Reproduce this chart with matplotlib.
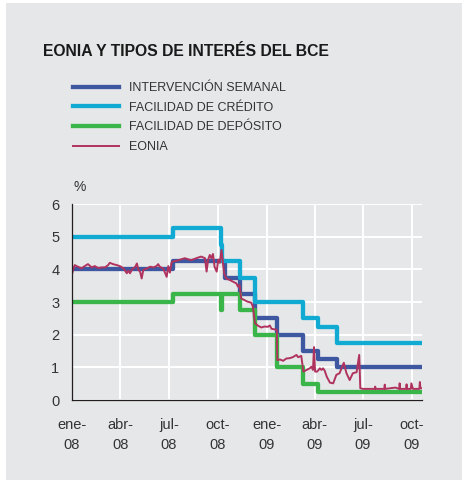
import matplotlib
matplotlib.use('Agg')
from matplotlib import pyplot as plt
from matplotlib.patches import Rectangle
import pandas as pd

# Tipos del BCE (fechas de cambio y niveles, %)
refi_dates = ['2008-01-01', '2008-07-09', '2008-10-15', '2008-11-12', '2008-12-10',
              '2009-01-21', '2009-03-11', '2009-04-08', '2009-05-13', '2009-10-20']
refi_vals = [4.00, 4.25, 3.75, 3.25, 2.50, 2.00, 1.50, 1.25, 1.00, 1.00]

fac_dates = ['2008-01-01', '2008-07-09', '2008-10-08', '2008-10-09', '2008-11-12',
             '2008-12-10', '2009-01-21', '2009-03-11', '2009-04-08', '2009-05-13', '2009-10-20']
credit_vals = [5.00, 5.25, 4.75, 4.25, 3.75, 3.00, 3.00, 2.50, 2.25, 1.75, 1.75]
deposit_vals = [3.00, 3.25, 2.75, 3.25, 2.75, 2.00, 1.00, 0.50, 0.25, 0.25, 0.25]

# EONIA
eonia_dates = [
    '2008-01-01', '2008-01-03', '2008-01-06', '2008-01-12', '2008-01-19', '2008-01-25',
    '2008-01-31', '2008-02-07', '2008-02-13', '2008-02-19', '2008-02-26', '2008-03-03',
    '2008-03-09', '2008-03-12', '2008-03-18', '2008-03-25', '2008-03-31', '2008-04-07',
    '2008-04-13', '2008-04-16', '2008-04-19', '2008-04-23', '2008-04-29', '2008-05-02',
    '2008-05-05', '2008-05-08', '2008-05-11', '2008-05-14', '2008-05-21', '2008-05-27',
    '2008-06-02', '2008-06-08', '2008-06-11', '2008-06-14', '2008-06-20', '2008-06-23',
    '2008-06-27', '2008-06-30', '2008-07-03', '2008-07-06', '2008-07-09', '2008-07-17',
    '2008-07-31', '2008-08-12', '2008-08-25', '2008-08-31', '2008-09-07', '2008-09-10',
    '2008-09-13', '2008-09-16', '2008-09-19', '2008-09-22', '2008-09-25', '2008-09-29',
    '2008-10-02', '2008-10-05', '2008-10-08', '2008-10-11', '2008-10-13', '2008-10-17',
    '2008-10-24', '2008-10-30', '2008-11-05', '2008-11-08', '2008-11-11', '2008-11-14',
    '2008-11-20', '2008-11-26', '2008-12-03', '2008-12-06', '2008-12-10', '2008-12-16',
    '2008-12-22', '2008-12-28', '2009-01-03', '2009-01-07', '2009-01-10', '2009-01-16',
    '2009-01-20', '2009-01-21', '2009-01-26', '2009-02-01', '2009-02-07', '2009-02-13',
    '2009-02-19', '2009-02-26', '2009-03-01', '2009-03-07', '2009-03-11', '2009-03-17',
    '2009-03-23', '2009-03-26', '2009-03-29', '2009-03-31', '2009-04-02', '2009-04-06',
    '2009-04-11', '2009-04-14', '2009-04-17', '2009-04-20', '2009-04-24', '2009-04-30',
    '2009-05-06', '2009-05-12', '2009-05-18', '2009-05-26', '2009-05-31', '2009-06-06',
    '2009-06-12', '2009-06-19', '2009-06-24', '2009-06-26', '2009-07-01', '2009-07-23',
    '2009-07-24', '2009-07-25', '2009-08-10', '2009-08-11', '2009-08-12', '2009-08-31',
    '2009-09-07', '2009-09-08', '2009-09-09', '2009-09-20', '2009-09-21', '2009-09-22',
    '2009-09-29', '2009-09-30', '2009-10-03', '2009-10-15', '2009-10-16', '2009-10-17',
    '2009-10-20']
eonia_vals = [
    3.85, 3.98, 4.13, 4.08, 4.03, 4.10,
    4.16, 4.06, 4.10, 4.04, 4.06, 4.06,
    4.13, 4.20, 4.16, 4.13, 4.10, 4.03,
    3.88, 3.96, 3.88, 4.00, 4.08, 4.18,
    3.98, 3.93, 3.72, 3.98, 4.03, 4.08,
    4.06, 4.10, 4.16, 4.08, 4.03, 3.93,
    3.77, 4.10, 3.90, 4.20, 4.24, 4.27,
    4.34, 4.28, 4.36, 4.39, 4.34, 3.93,
    4.30, 4.44, 4.34, 4.47, 4.08, 3.93,
    4.30, 4.20, 4.59, 4.18, 3.88, 3.72,
    3.67, 3.62, 3.57, 3.47, 3.52, 3.11,
    3.06, 3.01, 2.98, 2.86, 2.35, 2.27,
    2.22, 2.25, 2.24, 2.28, 2.18, 2.16,
    2.15, 1.22, 1.24, 1.20, 1.27, 1.28,
    1.31, 1.38, 1.31, 1.35, 0.87, 0.92,
    0.97, 1.02, 0.92, 1.62, 0.87, 0.87,
    0.97, 0.92, 0.97, 0.90, 0.71, 0.53,
    0.51, 0.77, 0.82, 1.14, 0.82, 0.61,
    0.82, 0.85, 1.38, 0.36, 0.34, 0.34,
    0.41, 0.34, 0.34, 0.47, 0.34, 0.38,
    0.34, 0.51, 0.34, 0.34, 0.48, 0.34,
    0.34, 0.51, 0.34, 0.34, 0.55, 0.36,
    0.36]

tick_dates = ['2008-01-01', '2008-04-01', '2008-07-01', '2008-10-01',
              '2009-01-01', '2009-04-01', '2009-07-01', '2009-10-01']
tick_labels = ['ene-\n08', 'abr-\n08', 'jul-\n08', 'oct-\n08',
               'ene-\n09', 'abr-\n09', 'jul-\n09', 'oct-\n09']

BG = '#e6e7e8'
TXT = '#333333'
plt.rcParams['font.family'] = ['Liberation Sans', 'DejaVu Sans']

fig = plt.figure(figsize=(4.62, 4.91), dpi=100)
fig.patch.set_facecolor('white')
fig.patches.append(Rectangle((6 / 462, 1 - 480 / 491), 456 / 462, 477 / 491,
                             transform=fig.transFigure, facecolor=BG, edgecolor='none',
                             zorder=-10))

ax = fig.add_axes([72 / 462, 1 - 400 / 491, 350 / 462, 196 / 491])
ax.set_facecolor(BG)

refi = pd.Series(refi_vals, index=pd.to_datetime(refi_dates))
credit = pd.Series(credit_vals, index=pd.to_datetime(fac_dates))
deposit = pd.Series(deposit_vals, index=pd.to_datetime(fac_dates))
eonia = pd.Series(eonia_vals, index=pd.to_datetime(eonia_dates))

ax.plot(refi.index, refi.values, drawstyle='steps-post', color='#3d57a1', lw=3.1,
        solid_joinstyle='round', label='INTERVENCIÓN SEMANAL', zorder=3)
ax.plot(credit.index, credit.values, drawstyle='steps-post', color='#11aad3', lw=3.1,
        solid_joinstyle='round', label='FACILIDAD DE CRÉDITO', zorder=3)
ax.plot(deposit.index, deposit.values, drawstyle='steps-post', color='#3ab54a', lw=3.1,
        solid_joinstyle='round', label='FACILIDAD DE DEPÓSITO', zorder=3)
ax.plot(eonia.index, eonia.values, color='#b0335e', lw=1.4, label='EONIA', zorder=4)

ax.set_xlim(pd.Timestamp('2008-01-01'), pd.Timestamp('2009-10-20'))
ax.set_ylim(0, 6)
ax.set_yticks(range(0, 7))
ax.set_xticks(pd.to_datetime(tick_dates))
ax.set_xticklabels(tick_labels, linespacing=1.55)
ax.tick_params(axis='both', length=0, labelsize=10.5, colors=TXT)
ax.tick_params(axis='x', pad=13)
ax.tick_params(axis='y', pad=9)
ax.grid(True, color='white', lw=1.4)
ax.set_axisbelow(True)
for s in ['top', 'right']:
    ax.spines[s].set_visible(False)
for s in ['left', 'bottom']:
    ax.spines[s].set_color('#231f20')
    ax.spines[s].set_linewidth(0.9)
    ax.spines[s].set_zorder(5)

ax.text(0.003, 1 + 17 / 196, '%', transform=ax.transAxes, ha='left', va='center',
        fontsize=10, color=TXT)

fig.text(43 / 462, 1 - 51 / 491, 'EONIA Y TIPOS DE INTERÉS DEL BCE', fontsize=11.3,
         fontweight='bold', color='#1a1a1a', va='center', ha='left')

fig.legend(loc='upper left', bbox_to_anchor=(73 / 462, 1 - 82 / 491), frameon=False,
           fontsize=9, handlelength=3.7, handletextpad=0.8, labelspacing=0.61,
           borderpad=0, borderaxespad=0, labelcolor=TXT)

fig.savefig('out.png', dpi=100, facecolor=fig.get_facecolor())
